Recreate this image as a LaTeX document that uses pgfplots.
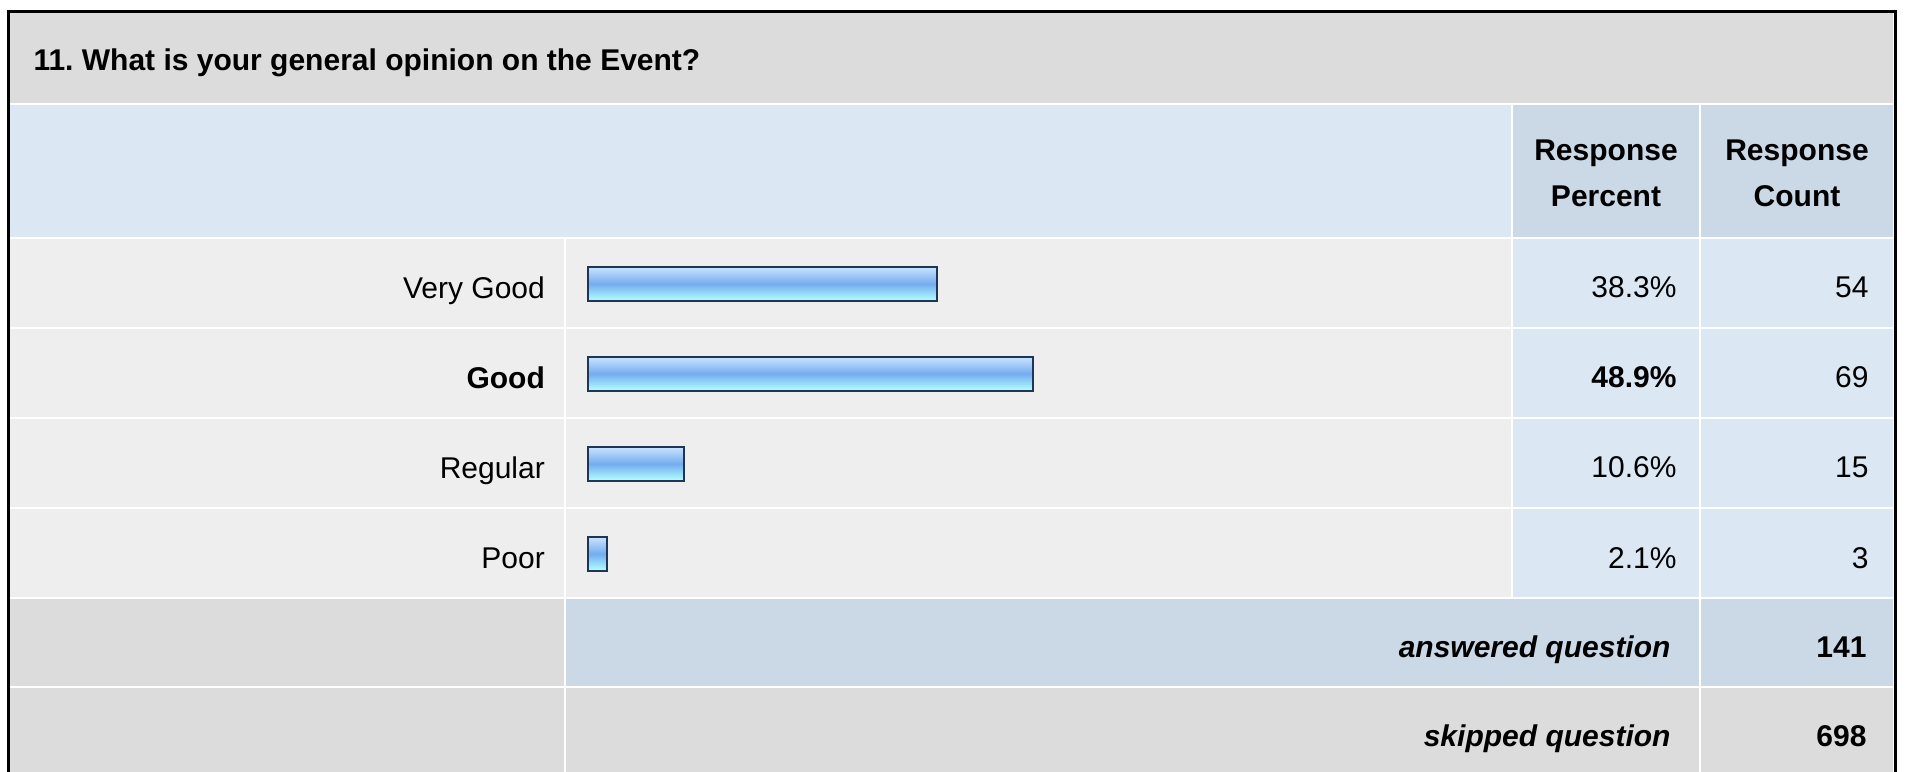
\documentclass[border=0pt]{standalone}
\usepackage{pgfplots}
\pgfplotsset{compat=1.18}
\usepackage{fontspec}
\setmainfont{Liberation Sans}
\definecolor{titlebg}{HTML}{DCDCDC}
\definecolor{hdrbg}{HTML}{DCE7F4}
\definecolor{hdrcol}{HTML}{CBD8E6}
\definecolor{rowbg}{HTML}{EEEEEE}
\definecolor{barborder}{HTML}{1F3556}
\definecolor{bartop}{HTML}{C8E4FF}
\definecolor{barmid}{HTML}{74ACEF}
\definecolor{barbot}{HTML}{B2FFFF}
\begin{document}
\frenchspacing
\begin{tikzpicture}
\begin{scope}[x=0.4pt,y=-0.4pt]
\path[use as bounding box] (0,0) rectangle (1907,772);
\fill[white] (0,0) rectangle (1907,772);
% title band
\fill[titlebg] (10,13) rectangle (1893,103);
% header
\fill[hdrbg] (10,105) rectangle (1511,237);
\fill[hdrcol] (1513,105) rectangle (1699,237);
\fill[hdrcol] (1701,105) rectangle (1893,237);
% data rows
\foreach \i in {0,1,2,3}{
  \pgfmathsetmacro{\t}{239+90*\i}
  \pgfmathsetmacro{\b}{327+90*\i}
  \fill[rowbg] (10,\t) rectangle (564,\b);
  \fill[rowbg] (566,\t) rectangle (1511,\b);
  \fill[hdrbg] (1513,\t) rectangle (1699,\b);
  \fill[hdrbg] (1701,\t) rectangle (1893,\b);
}
% answered
\fill[titlebg] (10,599) rectangle (564,686);
\fill[hdrcol] (566,599) rectangle (1699,686);
\fill[hdrcol] (1701,599) rectangle (1893,686);
% skipped
\fill[titlebg] (10,688) rectangle (564,772);
\fill[titlebg] (566,688) rectangle (1699,772);
\fill[titlebg] (1701,688) rectangle (1893,772);
% frame
\draw[black,line width=1.2pt] (8.5,780) -- (8.5,11.5) -- (1895,11.5) -- (1895,780);
% texts
\node[anchor=base west,inner sep=0pt,font=\fontsize{12}{14.4}\selectfont\bfseries] at (33,71) {11. What is your general opinion on the Event?};
\node[anchor=base,inner sep=0pt,font=\fontsize{12}{14.4}\selectfont\bfseries] at (1606,161) {Response};
\node[anchor=base,inner sep=0pt,font=\fontsize{12}{14.4}\selectfont\bfseries] at (1606,207) {Percent};
\node[anchor=base,inner sep=0pt,font=\fontsize{12}{14.4}\selectfont\bfseries] at (1797,161) {Response};
\node[anchor=base,inner sep=0pt,font=\fontsize{12}{14.4}\selectfont\bfseries] at (1797,207) {Count};
\node[anchor=base east,inner sep=0pt,font=\fontsize{12}{14.4}\selectfont] at (1677,298) {38.3\%};
\node[anchor=base east,inner sep=0pt,font=\fontsize{12}{14.4}\selectfont\bfseries] at (1677,388) {48.9\%};
\node[anchor=base east,inner sep=0pt,font=\fontsize{12}{14.4}\selectfont] at (1677,478) {10.6\%};
\node[anchor=base east,inner sep=0pt,font=\fontsize{12}{14.4}\selectfont] at (1677,568) {2.1\%};
\node[anchor=base east,inner sep=0pt,font=\fontsize{12}{14.4}\selectfont] at (1869,298) {54};
\node[anchor=base east,inner sep=0pt,font=\fontsize{12}{14.4}\selectfont] at (1869,388) {69};
\node[anchor=base east,inner sep=0pt,font=\fontsize{12}{14.4}\selectfont] at (1869,478) {15};
\node[anchor=base east,inner sep=0pt,font=\fontsize{12}{14.4}\selectfont] at (1869,568) {3};
\node[anchor=base east,inner sep=0pt,font=\fontsize{12}{14.4}\selectfont\bfseries\itshape] at (1671,657) {answered question};
\node[anchor=base east,inner sep=0pt,font=\fontsize{12}{14.4}\selectfont\bfseries] at (1867,657) {141};
\node[anchor=base east,inner sep=0pt,font=\fontsize{12}{14.4}\selectfont\bfseries\itshape] at (1671,746) {skipped question};
\node[anchor=base east,inner sep=0pt,font=\fontsize{12}{14.4}\selectfont\bfseries] at (1867,746) {698};
\end{scope}
\begin{axis}[
  at={(235.2pt,-95.2pt)}, anchor=north west,
  scale only axis, width=364pt, height=144pt,
  xmin=0, xmax=100, ymin=-0.5, ymax=3.5, y dir=reverse,
  clip=false,
  axis line style={draw=none},
  tick style={draw=none},
  xtick=\empty,
  ytick={0,1,2,3},
  yticklabels={Very Good,\textbf{Good},Regular,Poor},
  yticklabel style={font=\fontsize{12}{14.4}\selectfont, anchor=base east, inner sep=0pt, xshift=-12.8pt, yshift=-6pt},
  xbar, bar width=13.4pt, bar shift=0pt,
  mybar/.style={xbar, bar width=13.4pt, bar shift=-0.3pt, draw=barborder, line width=0.8pt, top color=bartop, bottom color=barbot, middle color=barmid},
]
\addplot[mybar] coordinates {(38.3,0)};
\addplot[mybar] coordinates {(48.9,1)};
\addplot[mybar] coordinates {(10.6,2)};
\addplot[mybar] coordinates {(2.1,3)};
\end{axis}
\end{tikzpicture}
\end{document}
